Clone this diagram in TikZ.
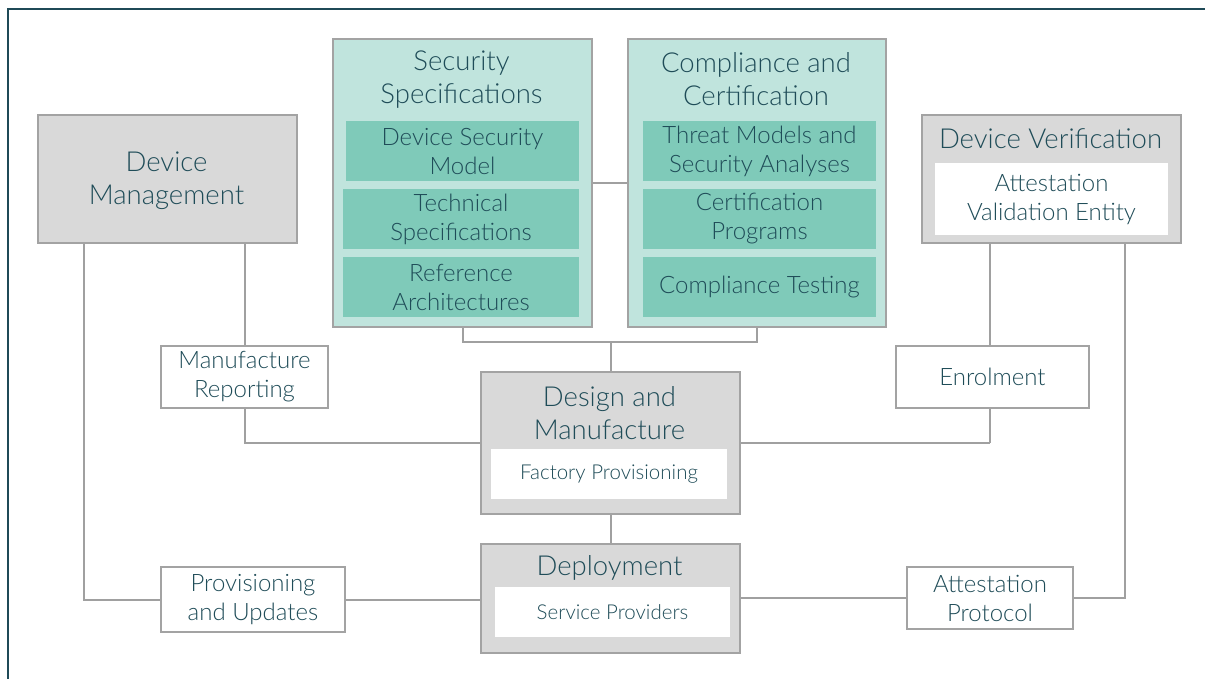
\documentclass[tikz,border=0pt]{standalone}
\usepackage{fontspec}
\setmainfont{Lato Light}
\definecolor{txt}{HTML}{1F4C58}
\definecolor{framec}{HTML}{1F4A57}
\definecolor{edgec}{HTML}{A3A3A3}
\definecolor{grayfill}{HTML}{D9D9D9}
\definecolor{tealL}{HTML}{C0E4DD}
\definecolor{tealD}{HTML}{7FCAB9}
\definecolor{linec}{HTML}{A0A0A0}
\begin{document}
\begin{tikzpicture}[x=1pt,y=-1pt,
  bx/.style={draw=edgec, line width=2pt, inner sep=0pt, anchor=north west, align=center, text=txt},
  graybox/.style={bx, fill=grayfill},
  outerteal/.style={bx, fill=tealL},
  innerteal/.style={bx, draw=none, fill=tealD, font=\fontsize{24}{29}\selectfont},
  whitebox/.style={bx, draw=none, fill=white},
  smallbox/.style={bx, fill=white, font=\fontsize{24}{29}\selectfont},
  ttl/.style={inner sep=0pt, align=center, text=txt, font=\fontsize{27.5}{33}\selectfont},
  conn/.style={draw=linec, line width=2pt}]
\useasboundingbox (0,0) rectangle (1205,679);
% frame
\draw[framec, line width=2pt] (7.5,700) -- (7.5,9) -- (1220,9);

% Device Management
\node[graybox, minimum width=259pt, minimum height=128pt] (dm) at (37,114) {};
\node[ttl] (dmt) at (166.5,181) {Device\\Management};

% Security Specifications
\node[outerteal, minimum width=259pt, minimum height=288pt] (ss) at (332,38) {};
\node[ttl] (sst) at (461.5,80) {Security\\Specifications};
\node[innerteal, minimum width=233pt, minimum height=60pt] (dsm) at (345,120) {Device Security\\Model};
\node[innerteal, minimum width=236pt, minimum height=60pt] (ts) at (342,188) {Technical\\Specifications};
\node[innerteal, minimum width=236pt, minimum height=60pt] (ra) at (342,256) {Reference\\Architectures};

% Compliance and Certification
\node[outerteal, minimum width=258pt, minimum height=288pt] (cc) at (627,38) {};
\node[ttl] (cct) at (756,79) {Compliance and\\Certification};
\node[innerteal, minimum width=233pt, minimum height=60pt] (tm) at (642,120) {Threat Models and\\Security Analyses};
\node[innerteal, minimum width=233pt, minimum height=60pt] (cp) at (642,188) {Certification\\Programs};
\node[innerteal, minimum width=233pt, minimum height=60pt] (ct) at (642,256) {Compliance Testing};

% Device Verification
\node[graybox, minimum width=259pt, minimum height=128pt] (dv) at (921,114) {};
\node[ttl] (dvt) at (1050.5,139) {Device Verification};
\node[whitebox, minimum width=233pt, minimum height=72pt, font=\fontsize{24}{29}\selectfont] (ave) at (934,162) {Attestation\\Validation Entity};

% Small boxes
\node[smallbox, minimum width=167pt, minimum height=62pt] (mr) at (160,345) {Manufacture\\Reporting};
\node[smallbox, minimum width=193pt, minimum height=62pt] (en) at (895,345) {Enrolment};
\node[smallbox, minimum width=184pt, minimum height=65pt] (pu) at (160,566) {Provisioning\\and Updates};
\node[smallbox, minimum width=166pt, minimum height=62pt] (ap) at (906,566) {Attestation\\Protocol};

% Design and Manufacture
\node[graybox, minimum width=259pt, minimum height=142pt] (dam) at (480,371) {};
\node[ttl] (damt) at (609.5,413) {Design and\\Manufacture};
\node[whitebox, minimum width=236pt, minimum height=50pt, font=\fontsize{20.5}{24}\selectfont] (fp) at (490,448) {Factory Provisioning};

% Deployment
\node[graybox, minimum width=259pt, minimum height=109pt] (dep) at (480,543) {};
\node[ttl] (dept) at (609.5,568) {Deployment};
\node[whitebox, minimum width=235pt, minimum height=50pt, font=\fontsize{20.5}{24}\selectfont] (sp) at (494,586) {Service Providers};

% connectors
\coordinate (brk) at ([yshift=-14pt]ss.south);
\draw[conn] (ss.east) -- (ss.east -| cc.west);
\draw[conn] (ss.south) -- (brk) -| (cc.south);
\draw[conn] (dam.north) -- (dam.north |- brk);
\draw[conn] ([xshift=47pt]dm.south west) |- (pu.west);
\draw[conn] (dm.south -| mr.north) -- (mr.north);
\draw[conn] (mr.south) |- (dam.west);
\draw[conn] (pu.east) -- (pu.east -| dep.west);
\draw[conn] (dam.south) -- (dep.north);
\draw[conn] ([xshift=-2.5pt]dam.east -| en.south) -- (dam.east);
\draw[conn] ([xshift=-2.5pt]en.south) -- ([xshift=-2.5pt]dam.east -| en.south);
\draw[conn] ([xshift=-2.5pt]en.north) -- ([xshift=-2.5pt]en.north |- dv.south);
\draw[conn] ([xshift=-57pt]dv.south east) |- (ap.east);
\draw[conn] (ap.west) -- (ap.west -| dep.east);
\end{tikzpicture}
\end{document}
